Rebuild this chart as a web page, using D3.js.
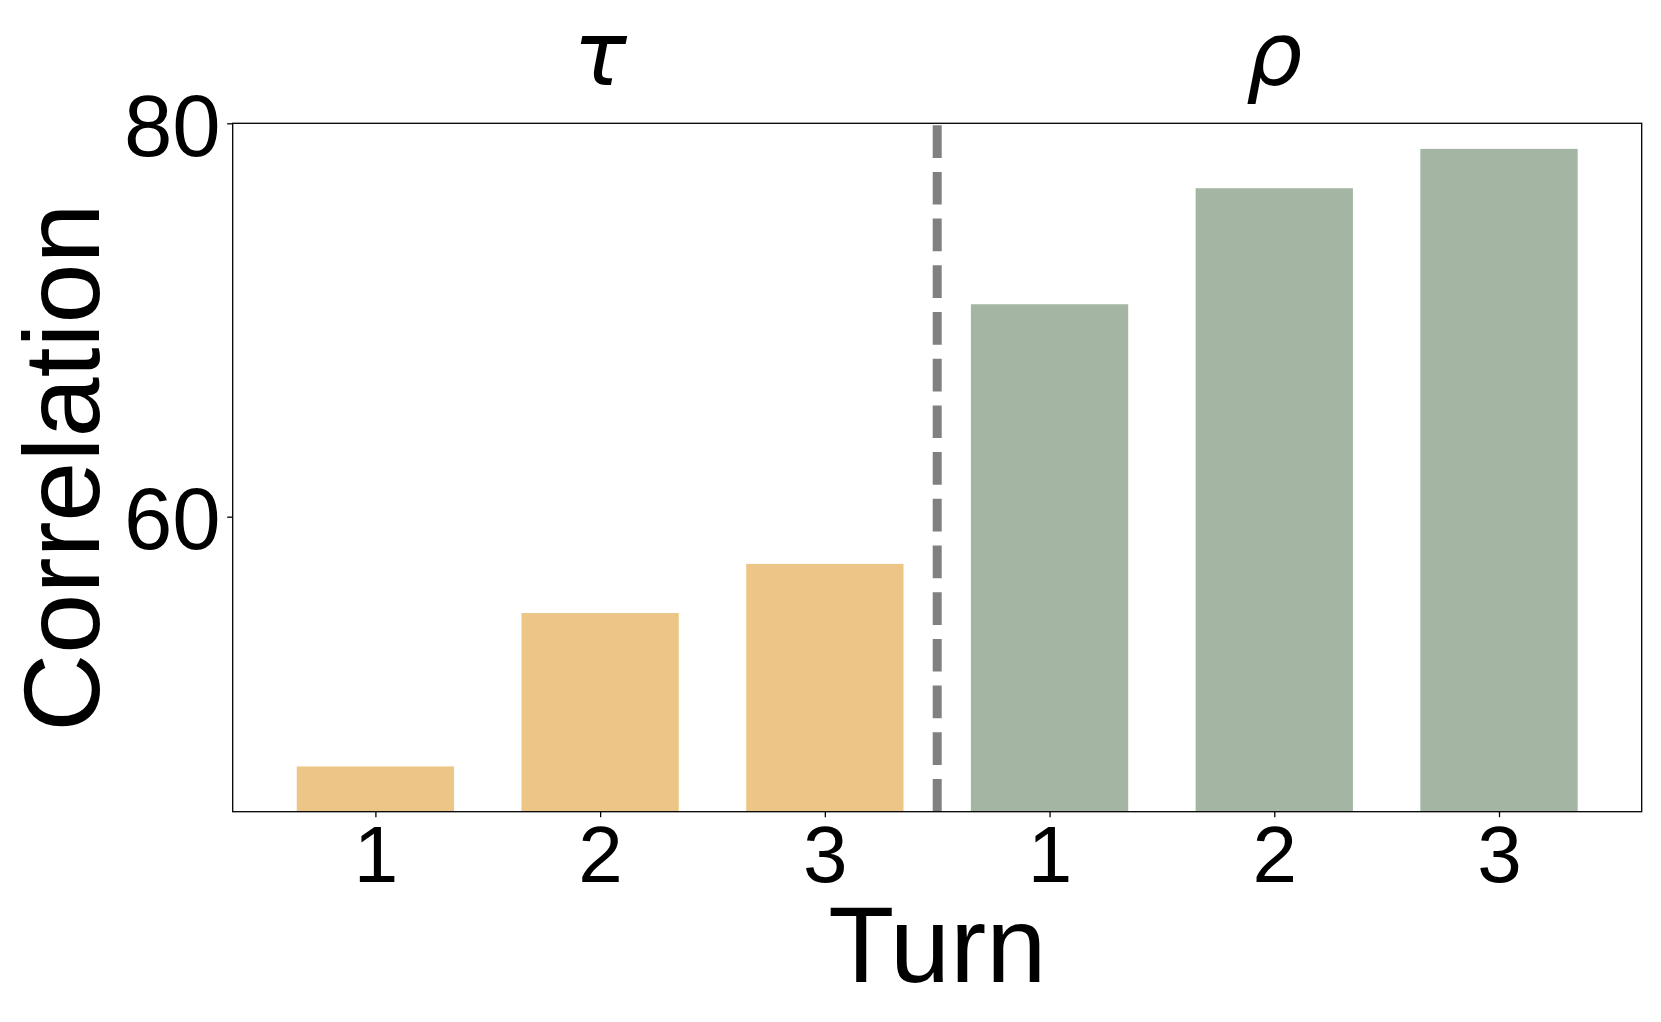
<!DOCTYPE html>
<html>
<head>
<meta charset="utf-8">
<script src="https://cdn.jsdelivr.net/npm/d3@7/dist/d3.min.js"></script>
<style>
  html, body { margin: 0; padding: 0; background: #ffffff; }
  svg { display: block; }
</style>
</head>
<body>
<svg id="chart" width="1661" height="1022"></svg>
<script>
// ---- data ----
const categories = ["1", "2", "3", "1", "2", "3"];
const groupLabels = ["τ", "ρ"];
const tauValues = [47.3, 55.1, 57.6];
const rhoValues = [70.8, 76.7, 78.7];
const yTickValues = [60, 80];
const xLabel = "Turn";
const yLabel = "Correlation";

const colors = { tau: "#edc687", rho: "#a5b5a3" };

// ---- layout ----
const plotL = 232.7, plotR = 1641.7, plotT = 123.3, plotB = 811.7;
const svg = d3.select("#chart");

const positions = categories.map((_, i) => i);
const x = d3.scaleLinear().domain([-0.635, 5.635]).range([plotL, plotR]);
const y = d3.scaleLinear().domain([45, 80]).range([plotB, plotT]);
const barWidth = 0.7;

const bars = tauValues.map((v, i) => ({ pos: i, value: v, color: colors.tau }))
  .concat(rhoValues.map((v, i) => ({ pos: i + tauValues.length, value: v, color: colors.rho })));

// bars
svg.append("g").selectAll("rect").data(bars).join("rect")
  .attr("x", d => x(d.pos - barWidth / 2))
  .attr("width", d => x(d.pos + barWidth / 2) - x(d.pos - barWidth / 2))
  .attr("y", d => y(d.value))
  .attr("height", d => y(45) - y(d.value))
  .attr("fill", d => d.color);

// dashed separator
svg.append("line")
  .attr("x1", x(2.5)).attr("x2", x(2.5))
  .attr("y1", y(45)).attr("y2", y(80))
  .attr("stroke", "#808080")
  .attr("stroke-width", 9)
  .attr("stroke-dasharray", "32.7,14");

// axes
const fontFam = "'Liberation Sans', Arial, Helvetica, sans-serif";
const yAxis = svg.append("g").attr("transform", `translate(${plotL},0)`)
  .call(d3.axisLeft(y).tickValues(yTickValues).tickSize(5.5).tickSizeOuter(0).tickPadding(6.5).tickFormat(d3.format("d")));
yAxis.select(".domain").remove();
yAxis.selectAll("line").attr("stroke", "#000").attr("stroke-width", 1.3);
yAxis.selectAll("text").attr("font-family", fontFam).attr("font-size", 87).attr("fill", "#000").attr("dy", "0.37em");

const xAxis = svg.append("g").attr("transform", `translate(0,${plotB})`)
  .call(d3.axisBottom(x).tickValues(positions).tickSize(5.5).tickSizeOuter(0).tickFormat(i => categories[i]));
xAxis.select(".domain").remove();
xAxis.selectAll("line").attr("stroke", "#000").attr("stroke-width", 1.3);
xAxis.selectAll("text").attr("font-family", fontFam).attr("font-size", 80).attr("fill", "#000")
  .attr("y", 70).attr("dy", 0);

// frame
svg.append("rect")
  .attr("x", plotL).attr("y", plotT)
  .attr("width", plotR - plotL).attr("height", plotB - plotT)
  .attr("fill", "none").attr("stroke", "#000").attr("stroke-width", 1.3);

// group titles
svg.append("g").selectAll("text").data(groupLabels).join("text")
  .attr("x", (d, i) => x(1 + i * 3))
  .attr("y", 85)
  .attr("text-anchor", "middle")
  .attr("font-family", "'DejaVu Sans', sans-serif")
  .attr("font-style", "italic")
  .attr("font-size", 89)
  .attr("fill", "#000")
  .text(d => d);

// axis labels
svg.append("text")
  .attr("x", (plotL + plotR) / 2).attr("y", 981.7)
  .attr("text-anchor", "middle")
  .attr("font-family", fontFam).attr("font-size", 108).attr("fill", "#000")
  .text(xLabel);

svg.append("text")
  .attr("transform", `translate(98.5,${(plotT + plotB) / 2}) rotate(-90)`)
  .attr("text-anchor", "middle")
  .attr("font-family", fontFam).attr("font-size", 108).attr("fill", "#000")
  .text(yLabel);
</script>
</body>
</html>
